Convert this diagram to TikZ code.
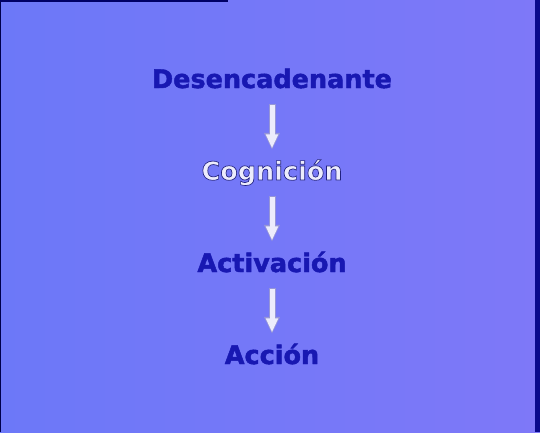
\documentclass[tikz,border=0pt]{standalone}
\usepackage{fontspec}
\setmainfont{DejaVu Sans}[BoldFeatures={FakeBold=1.8}]
\newfontfamily\cogfont{DejaVu Sans Bold}[FakeBold=2.6]
\usetikzlibrary{arrows.meta}
\definecolor{bgleft}{RGB}{108,120,248}
\definecolor{bgright}{RGB}{126,120,248}
\definecolor{stepblue}{RGB}{24,24,178}
\definecolor{edgeblue}{RGB}{10,10,140}
\definecolor{cogfill}{RGB}{236,236,252}
\definecolor{arrowedge}{RGB}{150,150,215}
\tikzset{
  stage/.style={inner sep=0pt,text height=18pt,text depth=0pt,font=\fontsize{25.5}{29}\bfseries,text=stepblue},
  arrowout/.style={line width=7pt,arrowedge,shorten <=16pt,shorten >=12pt,-{Triangle[length=17pt,width=15pt]}},
  arrowin/.style={line width=5pt,cogfill,shorten <=17pt,shorten >=13.5pt,-{Triangle[length=14pt,width=11.5pt]}}
}
\begin{document}
\begin{tikzpicture}[x=1pt,y=1pt]
\useasboundingbox (0,0) rectangle (540,432);
\shade[left color=bgleft,right color=bgright] (0,0) rectangle (540,432);
\fill[edgeblue] (535,0) rectangle (540,432);
\fill[black!60!blue] (0,430) rectangle (228,432);
\draw[black!70!blue,line width=1pt] (0.5,0)--(0.5,430);
\node[stage,anchor=base] (trig) at (272,344) {Desencadenante};
\node[stage,anchor=base,text=cogfill] (cog) at (272,252) {\special{pdf:literal direct 0.13 0.13 0.5 RG}\cogfont\fontsize{25.5}{29}\selectfont Cognición};
\node[stage,anchor=base] (act) at (272,160) {Activación};
\node[stage,anchor=base] (acc) at (272,68) {Acción};
\draw[arrowout] (trig) -- (cog);
\draw[arrowin] (trig) -- (cog);
\draw[arrowout] (cog) -- (act);
\draw[arrowin] (cog) -- (act);
\draw[arrowout] (act) -- (acc);
\draw[arrowin] (act) -- (acc);
\end{tikzpicture}
\end{document}
